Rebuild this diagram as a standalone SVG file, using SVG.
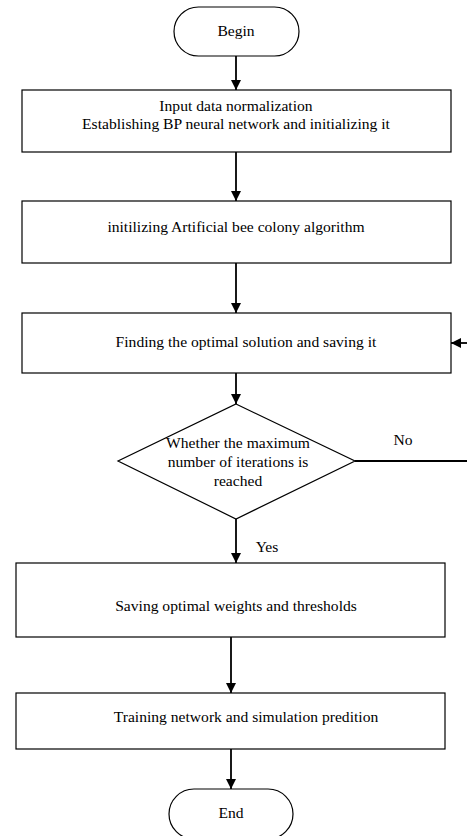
<svg xmlns="http://www.w3.org/2000/svg" width="467" height="836" viewBox="0 0 467 836">
<style>
.shape{fill:#fff;stroke:#000;stroke-width:1.2}
.t{font-family:"Liberation Serif","Times New Roman",serif;font-size:15.6px;fill:#000;text-anchor:middle}
.c{fill:none;stroke:#000;stroke-width:1.8}
</style>
<defs>
<marker id="ah" viewBox="0 0 10 10" refX="10" refY="5" markerWidth="10" markerHeight="10" markerUnits="userSpaceOnUse" orient="auto">
<path d="M0,0 L10,5 L0,10 z" fill="#000"/>
</marker>
</defs>
<rect width="467" height="836" fill="#fff"/>
<g id="connectors">
<line class="c" x1="236" y1="56" x2="236" y2="90" marker-end="url(#ah)"/>
<line class="c" x1="236" y1="152" x2="236" y2="201" marker-end="url(#ah)"/>
<line class="c" x1="236" y1="263" x2="236" y2="313" marker-end="url(#ah)"/>
<line class="c" x1="236" y1="373" x2="236" y2="404" marker-end="url(#ah)"/>
<line class="c" x1="236" y1="519" x2="236" y2="563" marker-end="url(#ah)"/>
<line class="c" x1="231" y1="637" x2="231" y2="693" marker-end="url(#ah)"/>
<line class="c" x1="231" y1="749" x2="231" y2="789" marker-end="url(#ah)"/>
<polyline class="c" points="355,461 467,461"/>
<line class="c" x1="467" y1="343" x2="451" y2="343" marker-end="url(#ah)"/>
<text class="t" x="403" y="445">No</text>
<text class="t" x="267" y="552">Yes</text>
</g>
<g id="begin">
<rect class="shape" x="174" y="7" width="125" height="49" rx="24.5"/>
<text class="t" x="236" y="36">Begin</text>
</g>
<g id="box1">
<rect class="shape" x="22" y="90" width="429" height="62"/>
<text class="t" x="236" y="111">Input data normalization</text>
<text class="t" x="236" y="129">Establishing BP neural network and initializing it</text>
</g>
<g id="box2">
<rect class="shape" x="22" y="201" width="429" height="62"/>
<text class="t" x="236" y="232">initilizing Artificial bee colony algorithm</text>
</g>
<g id="box3">
<rect class="shape" x="22" y="313" width="429" height="60"/>
<text class="t" x="246" y="347">Finding the optimal solution and saving it</text>
</g>
<g id="decision">
<polygon class="shape" points="236,404 355,461 236,519 118,461"/>
<text class="t" x="238" y="448">Whether the maximum</text>
<text class="t" x="238" y="467">number of iterations is</text>
<text class="t" x="238" y="486">reached</text>
</g>
<g id="box4">
<rect class="shape" x="16" y="563" width="429" height="74"/>
<text class="t" x="236" y="611">Saving optimal weights and thresholds</text>
</g>
<g id="box5">
<rect class="shape" x="16" y="693" width="429" height="56"/>
<text class="t" x="246" y="722">Training network and simulation predition</text>
</g>
<g id="end">
<rect class="shape" x="169" y="789" width="124" height="50" rx="25"/>
<text class="t" x="231" y="818">End</text>
</g>
</svg>
